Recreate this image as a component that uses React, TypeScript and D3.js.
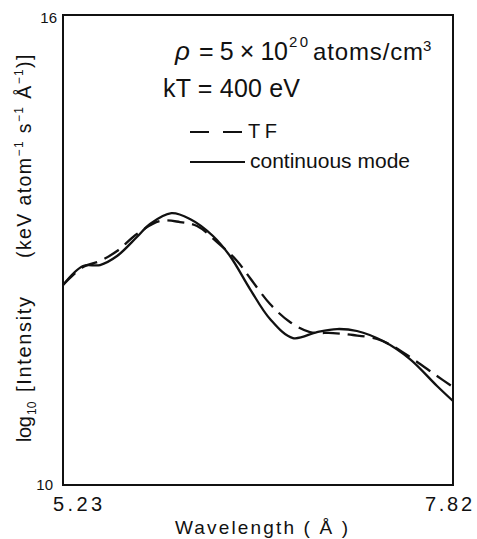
import React from 'react';
import * as d3 from 'd3';

// wavelength (Å) and log10 intensity
const solidWl = [5.23, 5.363, 5.476, 5.589, 5.721, 5.808, 5.95, 6.073, 6.226, 6.339, 6.472, 6.605, 6.757, 6.917, 7.05, 7.182, 7.355, 7.534, 7.714, 7.82];
const solidVal = [12.553, 12.796, 12.808, 12.923, 13.166, 13.332, 13.47, 13.396, 13.179, 12.923, 12.502, 12.119, 11.876, 11.953, 11.991, 11.966, 11.838, 11.608, 11.264, 11.072];

const tfWl = [5.23, 5.363, 5.476, 5.589, 5.721, 5.874, 6.007, 6.12, 6.253, 6.386, 6.472, 6.605, 6.737, 6.87, 7.023, 7.156, 7.315, 7.421, 7.554, 7.714, 7.82];
const tfVal = [12.553, 12.783, 12.86, 12.987, 13.204, 13.37, 13.357, 13.306, 13.102, 12.86, 12.643, 12.31, 12.081, 11.953, 11.94, 11.915, 11.864, 11.774, 11.608, 11.391, 11.251];

const xTicks = [5.23, 7.82];
const yTicks = [10, 16];

const W = 477, H = 539;
const font = '"Liberation Sans", Arial, sans-serif';

export default function App() {
  const x = d3.scaleLinear().domain([5.23, 7.82]).range([63, 453]);
  const y = d3.scaleLinear().domain([10, 16]).range([485, 15]);

  const line = d3.line<[number, number]>()
    .x(d => x(d[0]))
    .y(d => y(d[1]))
    .curve(d3.curveCatmullRom.alpha(0.5));

  const solid = line(solidWl.map((w, i) => [w, solidVal[i]]))!;
  const tf = line(tfWl.map((w, i) => [w, tfVal[i]]))!;

  return (
    <svg width={W} height={H} style={{ position: 'absolute', left: 0, top: 0, background: '#fff' }} fontFamily={font}>
      <rect x={0} y={0} width={W} height={H} fill="#fff" />
      <path d={tf} fill="none" stroke="#111" strokeWidth={2.3} strokeDasharray="17 8" />
      <path d={solid} fill="none" stroke="#111" strokeWidth={2.3} />
      <rect x={x(5.23)} y={y(16)} width={x(7.82) - x(5.23)} height={y(10) - y(16)} fill="none" stroke="#111" strokeWidth={2} />

      {/* y tick labels */}
      <text x={57} y={y(yTicks[1]) + 8} fontSize={15} textAnchor="end" fill="#111">{yTicks[1]}</text>
      <text x={53} y={y(yTicks[0]) + 5} fontSize={15} textAnchor="end" fill="#111">{yTicks[0]}</text>

      {/* x tick labels */}
      <text x={x(xTicks[0]) - 10} y={511} fontSize={20} textLength={49} lengthAdjust="spacing" fill="#111">{xTicks[0].toFixed(2)}</text>
      <text x={x(xTicks[1]) - 28} y={511} fontSize={20} textLength={47} lengthAdjust="spacing" fill="#111">{xTicks[1].toFixed(2)}</text>
      <text x={175} y={534} fontSize={19} textLength={173} lengthAdjust="spacing" fill="#111">Wavelength ( Å )</text>

      {/* y axis label */}
      <g transform="translate(31,0) rotate(-90)" fill="#111">
        <text x={-442} y={0} fontSize={20} textLength={26} lengthAdjust="spacing">log</text>
        <text x={-415} y={5} fontSize={12}>10</text>
        <text x={-392} y={0} fontSize={20} textLength={95} lengthAdjust="spacing">[Intensity</text>
        <text x={-258} y={0} fontSize={19.5} letterSpacing={1.4}>
          (keV atom<tspan dy={-8} fontSize={12}>−1</tspan>
          <tspan dy={8}> s</tspan><tspan dy={-8} fontSize={12}>−1</tspan>
          <tspan dy={8}> Å</tspan><tspan dy={-8} fontSize={12}>−1</tspan>
          <tspan dy={8}>)]</tspan>
        </text>
      </g>

      {/* annotations */}
      <g fill="#111">
        <text x={175} y={60} fontSize={26} fontStyle="italic">ρ</text>
        <text x={199} y={60} fontSize={25} textLength={89} lengthAdjust="spacing">= 5 × 10</text>
        <text x={289} y={47} fontSize={15} textLength={19} lengthAdjust="spacing">20</text>
        <text x={313} y={60} fontSize={24} textLength={110} lengthAdjust="spacing">atoms/cm</text>
        <text x={423} y={51} fontSize={15}>3</text>
        <text x={163} y={97} fontSize={25} textLength={137} lengthAdjust="spacing">kT = 400 eV</text>
      </g>

      {/* legend */}
      <line x1={190} x2={243} y1={132} y2={132} stroke="#111" strokeWidth={2} strokeDasharray="19 14" />
      <text x={248} y={138} fontSize={20} textLength={29} lengthAdjust="spacing" fill="#111">TF</text>
      <line x1={190} x2={245} y1={162} y2={162} stroke="#111" strokeWidth={2} />
      <text x={250} y={168} fontSize={21} textLength={160} lengthAdjust="spacing" fill="#111">continuous mode</text>
    </svg>
  );
}
